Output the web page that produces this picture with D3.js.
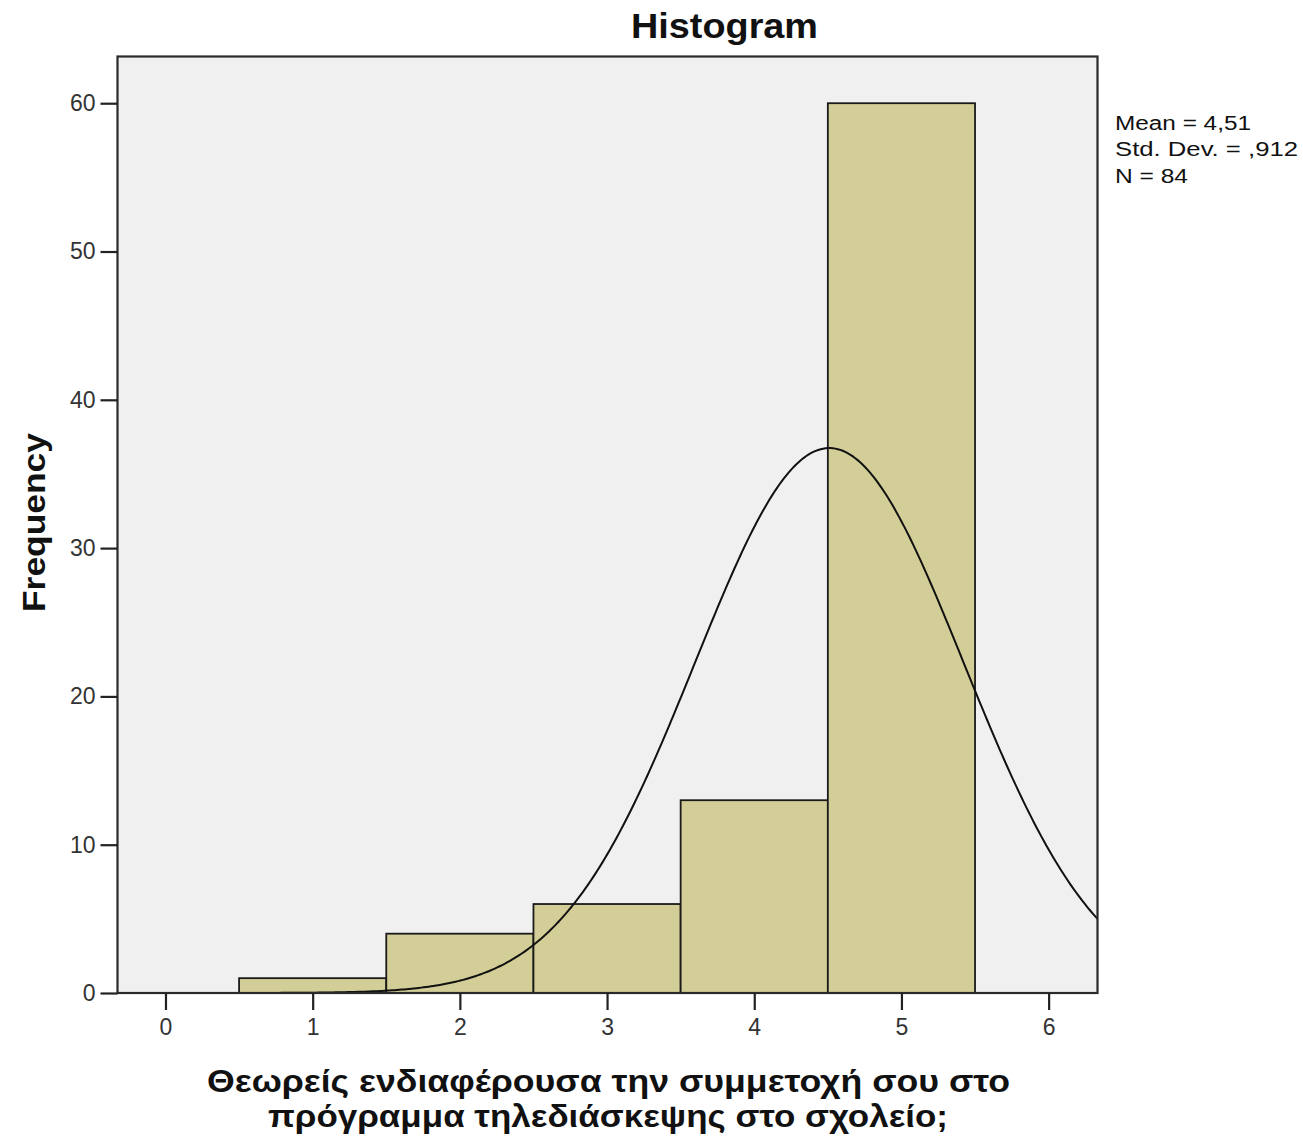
<!DOCTYPE html>
<html><head><meta charset="utf-8">
<script src="https://cdn.jsdelivr.net/npm/d3@7"></script>
<style>body{margin:0;background:#fff}svg{display:block}text{font-family:Arial,"Liberation Sans",sans-serif}</style>
</head><body>
<script>
const binStarts = [0.5, 1.5, 2.5, 3.5, 4.5];
const binEnds = [1.5, 2.5, 3.5, 4.5, 5.5];
const frequencies = [1, 4, 6, 13, 60];
const xTicks = [0, 1, 2, 3, 4, 5, 6];
const yTicks = [0, 10, 20, 30, 40, 50, 60];
const statsLines = ["Mean = 4,51", "Std. Dev. = ,912", "N = 84"];
const mean = 4.51, sd = 0.912, n = 84, binWidth = 1;

const W = 1303, H = 1138;
const L = 117.5, R = 1097.5, T = 56.5, B = 993;
const svg = d3.select("body").append("svg").attr("width", W).attr("height", H);

const x = d3.scaleLinear().domain([-0.326, 6.332]).range([L, R]);
const y = d3.scaleLinear().domain([0, 63.15]).range([B, T]);

svg.append("rect").attr("x", L).attr("y", T).attr("width", R - L).attr("height", B - T)
  .attr("fill", "#f0f0f0");

svg.append("g").selectAll("rect").data(frequencies).join("rect")
  .attr("x", (d, i) => x(binStarts[i]))
  .attr("width", (d, i) => x(binEnds[i]) - x(binStarts[i]))
  .attr("y", d => y(d))
  .attr("height", d => y(0) - y(d))
  .attr("fill", "#d3ce97").attr("stroke", "#1a1a1a").attr("stroke-width", 1.8);

// normal curve
const pts = d3.range(0, 401).map(i => x.invert(L) + (x.invert(R) - x.invert(L)) * i / 400);
const pdf = v => n * binWidth * Math.exp(-0.5 * ((v - mean) / sd) ** 2) / (sd * Math.sqrt(2 * Math.PI));
svg.append("path").datum(pts)
  .attr("d", d3.line().x(v => x(v)).y(v => y(pdf(v))))
  .attr("fill", "none").attr("stroke", "#111").attr("stroke-width", 2);

// frame
svg.append("rect").attr("x", L).attr("y", T).attr("width", R - L).attr("height", B - T)
  .attr("fill", "none").attr("stroke", "#2a2a2a").attr("stroke-width", 2.2);

// axes
const xAxis = d3.axisBottom(x).tickValues(xTicks).tickSize(17).tickPadding(9).tickFormat(d3.format("d"));
const gx = svg.append("g").attr("transform", `translate(0,${B})`).call(xAxis);
gx.select(".domain").remove();
gx.selectAll("line").attr("stroke", "#222").attr("stroke-width", 2.2);
gx.selectAll("text").attr("font-size", 23).attr("fill", "#333").attr("font-family", "Arial, 'Liberation Sans'");

const yAxis = d3.axisLeft(y).tickValues(yTicks).tickSize(17).tickPadding(5).tickFormat(d3.format("d"));
const gy = svg.append("g").attr("transform", `translate(${L},0)`).call(yAxis);
gy.select(".domain").remove();
gy.selectAll("line").attr("stroke", "#222").attr("stroke-width", 2.2);
gy.selectAll("text").attr("font-size", 23).attr("fill", "#333").attr("font-family", "Arial, 'Liberation Sans'");

// title
svg.append("text").attr("x", 631).attr("y", 38)
  .attr("font-size", 35).attr("font-weight", "bold").attr("fill", "#111")
  .attr("textLength", 187).attr("lengthAdjust", "spacingAndGlyphs").text("Histogram");

// y label
svg.append("text").attr("transform", "translate(45,612) rotate(-90)")
  .attr("font-size", 31).attr("font-weight", "bold").attr("fill", "#111")
  .attr("textLength", 179).attr("lengthAdjust", "spacingAndGlyphs").text("Frequency");

// x label
svg.append("text").attr("x", 207).attr("y", 1092).attr("font-size", 31)
  .attr("font-weight", "bold").attr("fill", "#111")
  .attr("textLength", 803).attr("lengthAdjust", "spacingAndGlyphs")
  .text("Θεωρείς ενδιαφέρουσα την συμμετοχή σου στο");
svg.append("text").attr("x", 268).attr("y", 1127).attr("font-size", 31)
  .attr("font-weight", "bold").attr("fill", "#111")
  .attr("textLength", 680).attr("lengthAdjust", "spacingAndGlyphs")
  .text("πρόγραμμα τηλεδιάσκεψης στο σχολείο;");

// stats
const statsWidths = [136, 183, 73];
svg.append("g").selectAll("text").data(statsLines).join("text")
  .attr("x", 1115).attr("y", (d, i) => 129.5 + i * 26.7)
  .attr("font-size", 20).attr("fill", "#111")
  .attr("textLength", (d, i) => statsWidths[i]).attr("lengthAdjust", "spacingAndGlyphs")
  .text(d => d);
</script>
</body></html>
